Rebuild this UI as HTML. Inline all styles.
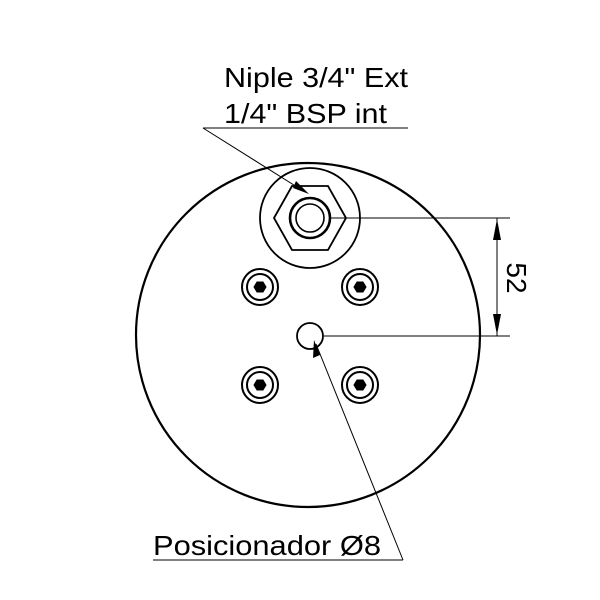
<!DOCTYPE html>
<html><head><style>body{margin:0;background:#fff}svg{display:block}</style></head><body>
<svg width="600" height="600" viewBox="0 0 600 600" xmlns="http://www.w3.org/2000/svg" font-family="Liberation Sans, sans-serif">
<rect width="600" height="600" fill="#fff"/>
<circle cx="308" cy="335" r="172" fill="none" stroke="#000" stroke-width="2.2"/>
<circle cx="310" cy="218" r="50" fill="none" stroke="#000" stroke-width="1.8"/>
<polygon points="274,218 292,186 328,186 346,218 328,250 292,250" fill="none" stroke="#000" stroke-width="1.8"/>
<circle cx="310" cy="218" r="20" fill="none" stroke="#000" stroke-width="2.6"/>
<circle cx="310" cy="218" r="14" fill="none" stroke="#000" stroke-width="1.6"/>
<circle cx="310" cy="336" r="13" fill="none" stroke="#000" stroke-width="1.8"/>
<g fill="none" stroke="#000">
<g transform="translate(260,287)"><circle r="18" stroke-width="2"/><circle r="13" stroke-width="2"/><polygon points="-6,0 -3,-5 3,-5 6,0 3,5 -3,5" fill="#000"/></g>
<g transform="translate(360,287)"><circle r="18" stroke-width="2"/><circle r="13" stroke-width="2"/><polygon points="-6,0 -3,-5 3,-5 6,0 3,5 -3,5" fill="#000"/></g>
<g transform="translate(260,385)"><circle r="18" stroke-width="2"/><circle r="13" stroke-width="2"/><polygon points="-6,0 -3,-5 3,-5 6,0 3,5 -3,5" fill="#000"/></g>
<g transform="translate(360,385)"><circle r="18" stroke-width="2"/><circle r="13" stroke-width="2"/><polygon points="-6,0 -3,-5 3,-5 6,0 3,5 -3,5" fill="#000"/></g>
</g>
<g stroke="#000" stroke-width="1">
<line x1="330" y1="218" x2="510" y2="218"/>
<line x1="324" y1="336" x2="510" y2="336"/>
<line x1="497" y1="218" x2="497" y2="336"/>
<line x1="203" y1="128" x2="408" y2="128"/>
<line x1="203" y1="128" x2="305" y2="192"/>
<line x1="153" y1="560" x2="403" y2="560"/>
<line x1="403" y1="560" x2="316" y2="344"/>
</g>
<polygon points="497,219 493,240 501,240" fill="#000"/>
<polygon points="497,335 493,314 501,314" fill="#000"/>
<polygon points="309,194 296,181 293,188" fill="#000"/>
<polygon points="314,340 313,358 320,355" fill="#000"/>
<text x="224" y="87" font-size="28" textLength="184" lengthAdjust="spacingAndGlyphs">Niple 3/4" Ext</text>
<text x="224" y="123" font-size="28" textLength="163" lengthAdjust="spacingAndGlyphs">1/4" BSP int</text>
<text x="153" y="555" font-size="28" textLength="228" lengthAdjust="spacingAndGlyphs">Posicionador Ø8</text>
<text transform="translate(507,278) rotate(90)" font-size="28" text-anchor="middle">52</text>
</svg>
</body></html>
